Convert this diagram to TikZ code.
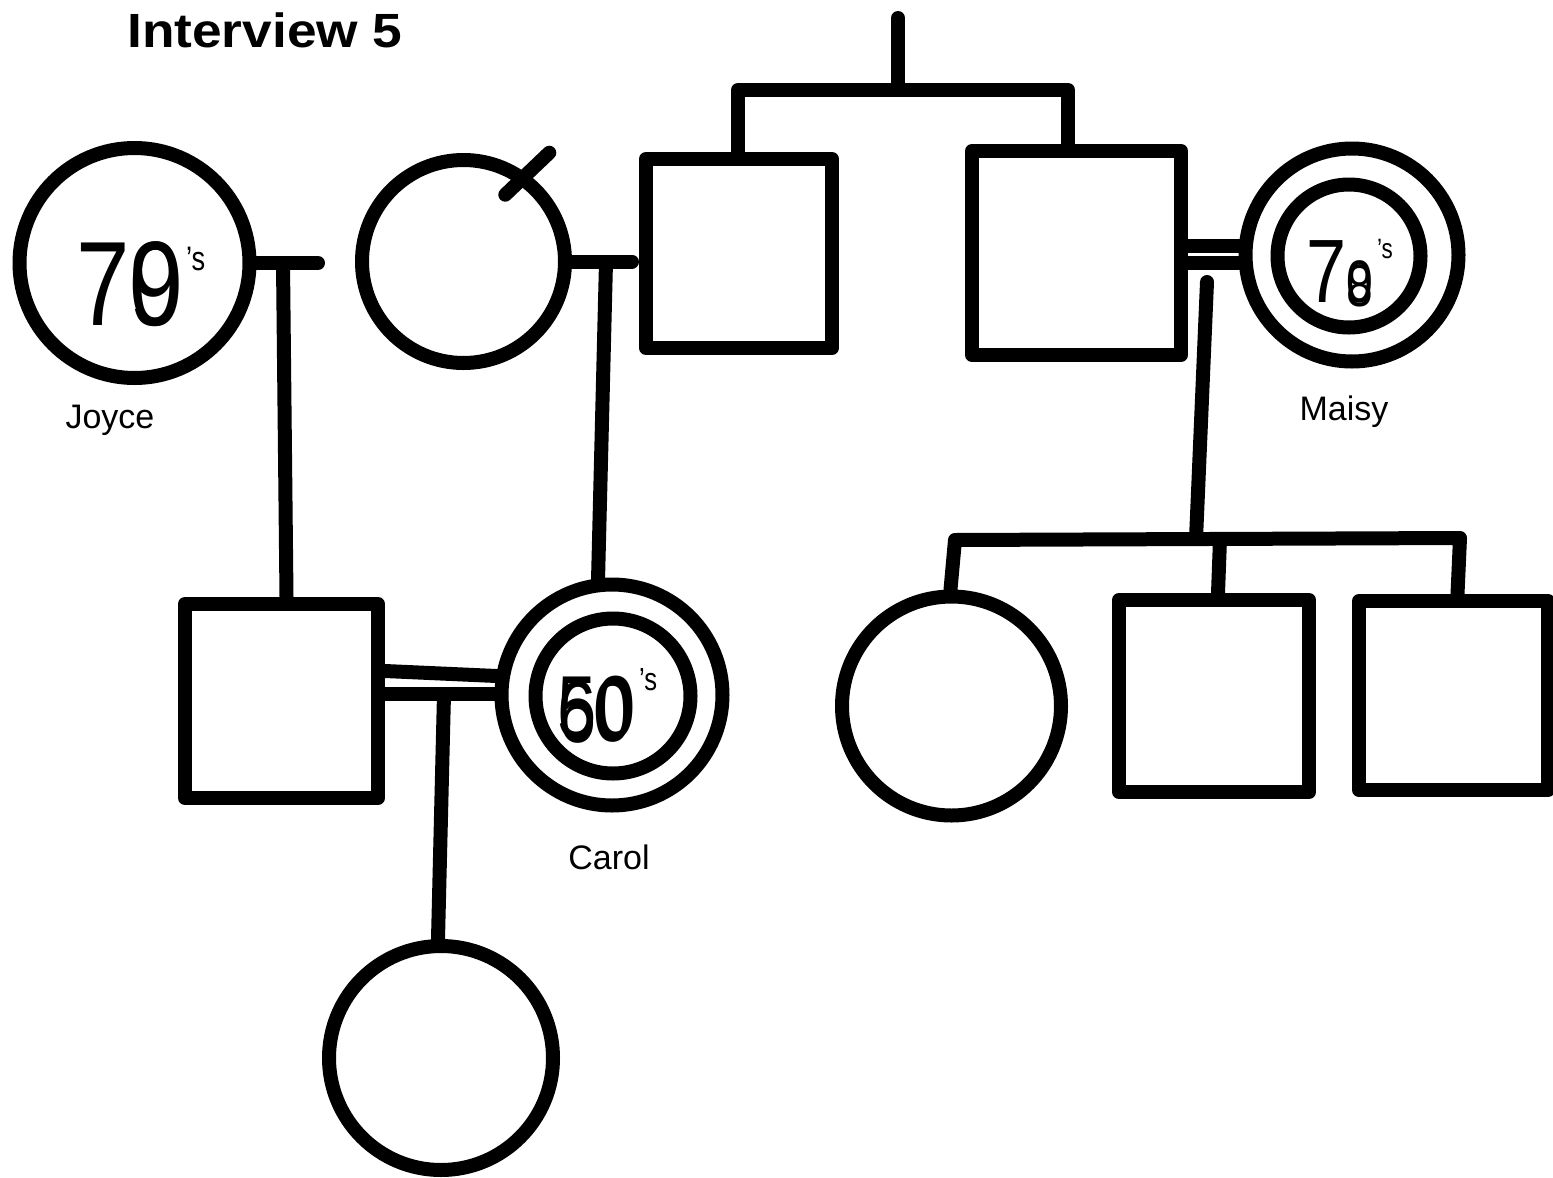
\documentclass[tikz,border=0pt]{standalone}
\usepackage{fontspec}
\setmainfont{Liberation Sans}
\usetikzlibrary{calc}
\begin{document}
\begin{tikzpicture}[x=1pt,y=-1pt,
  ln/.style={line width=14pt, line cap=round, line join=round},
  fem/.style={circle, draw, ln, fill=white, inner sep=0pt, minimum size=#1},
  mal/.style={rectangle, draw, ln, fill=white, inner sep=0pt},
  lbl/.style={font=\fontsize{34}{40}\selectfont, anchor=base, inner sep=0pt},
  hand/.style={font=\fontsize{#1}{#1}\selectfont, inner sep=0pt, anchor=base west, xscale=0.8, transform shape},
]
\fill[white] (0,0) rectangle (1553,1178);
\useasboundingbox (0,0) rectangle (1553,1178);

% title
\node[font=\fontsize{48}{56}\selectfont\bfseries, xscale=1.11, transform shape,
      anchor=base west, inner sep=0pt] (title) at (127,47) {Interview 5};

% first generation
\node[fem=230] (joyce) at (134.5,263) {};
\node[fem=203] (wife1) at (463.5,261.5) {};
\node[mal, minimum width=186, minimum height=189] (sq1) at (739,253.5) {};
\node[mal, minimum width=209, minimum height=204] (sq2) at (1076.5,253) {};
\node[fem=213] (maisyO) at (1352,255) {};
\node[fem=143] (maisyI) at (1349,256) {};

% second generation
\node[mal, minimum width=193, minimum height=194] (son) at (281.5,701) {};
\node[fem=221] (carolO) at (612,695) {};
\node[fem=155] (carolI) at (613,696) {};
\node[fem=219] (childF) at (951.5,706) {};
\node[mal, minimum width=190, minimum height=192] (childM1) at (1214,696) {};
\node[mal, minimum width=189, minimum height=189] (childM2) at (1453.5,695.5) {};

% third generation
\node[fem=224] (daughter) at (441,1058) {};

% deceased mark
\draw[ln] ($(wife1.54)+(-22,21)$) -- ($(wife1.54)+(22,-21)$);

% sibship of the two brothers
\coordinate (apex) at (898,18);
\coordinate (sibL) at (738,90);
\coordinate (sibR) at (1068,90);
\draw[ln] (apex) -- (apex |- sibL);
\draw[ln] (sq1.north -| sibL) -- (sibL) -- (sibR) -- (sq2.north -| sibR);

% Joyce's partnership and descent
\coordinate (jm) at (318,263);
\coordinate (jd) at (283,263);
\draw[ln] (joyce.east) -- (jm);
\draw[ln] (jd) -- ($(son.north)+(5,0)$);

% partnership with the first brother and descent
\coordinate (wd) at (606,262);
\draw[ln] (wife1.east) -- ($(wife1.east -| sq1.west)+(-7,0)$);
\draw[ln] (wd) -- ($(carolO.north)+(-14,3)$);

% marriage of the second brother and Maisy
\draw[ln] ($(sq2.east)+(0,-7)$) -- ($(maisyO.west)+(0,-9)$);
\draw[ln] ($(sq2.east)+(0,10)$) -- ($(maisyO.west)+(1,8)$);
\coordinate (md) at (1207,282);
\coordinate (kM) at (1196,539);
\coordinate (kL) at (955,540);
\coordinate (kM1) at (1220,539);
\coordinate (kR) at (1460,538);
\draw[ln] (md) -- (kM);
\draw[ln] ($(childF.north)+(-1,0)$) -- (kL) -- (kR) -- ($(childM2.north)+(4,0)$);
\draw[ln] (kM1) -- ($(childM1.north)+(4,0)$);

% marriage of son and Carol
\draw[ln] ($(son.east)+(0,-30)$) -- ($(carolO.west)+(2,-19)$);
\draw[ln] ($(son.east)+(0,-7)$) -- ($(carolO.west)+(0,-1)$);
\coordinate (sd) at (444,694);
\draw[ln] (sd) -- ($(daughter.north)+(-3,0)$);

% names
\node[lbl] (lj) at (110,428) {Joyce};
\node[lbl] (lc) at (609,869) {Carol};
\node[lbl] (lm) at (1344,420) {Maisy};

% ages, digits written over one another
\node[hand=120] (jage) at (76,325) {7\rlap{0}9};
\node[hand=34] (js) at (186,270) {’s};

\node[hand=90] (mage) at (1306,302)
  {7{\fontsize{60}{60}\selectfont\rlap{0}\raisebox{-4pt}{8}}};
\node[hand=28] (ms) at (1377,258) {’s};

\node[hand=88] (cage) at (557,737)
  {\rlap{5}\raisebox{-5pt}{6}\rlap{0}\kern-3pt\raisebox{-4pt}{0}\kern3pt};
\node[hand=32] (cs) at (639,690) {’s};
\end{tikzpicture}
\end{document}
